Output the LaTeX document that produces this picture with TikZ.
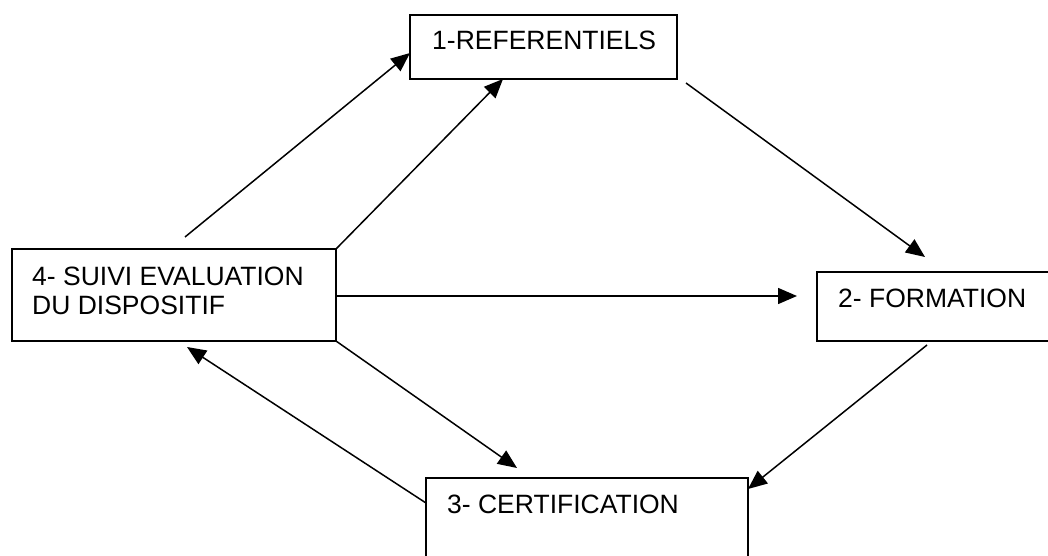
\documentclass[tikz,border=0pt]{standalone}
\usepackage{fontspec}
\setmainfont{Liberation Sans}
\usetikzlibrary{arrows.meta}
\begin{document}
\begin{tikzpicture}[x=1pt,y=-1pt,
  boxline/.style={draw=black, line width=1.8pt},
  lbl/.style={anchor=base west, inner sep=0pt, font=\fontsize{26.5}{29}\selectfont},
  conn/.style={line width=1.5pt, -{Triangle[length=19pt,width=16pt]}}]
\useasboundingbox (0,0) rectangle (1048,556);
\fill[white] (0,0) rectangle (1048,556);
% boxes
\draw[boxline] (410,15) rectangle (677,79);
\draw[boxline] (817,272) rectangle (1062,341);
\draw[boxline] (426,478) rectangle (748,570);
\draw[boxline] (12,249) rectangle (336,341);
% labels
\node[lbl] (t1) at (432,50) {1-REFERENTIELS};
\node[lbl] (t2) at (838,307) {2- FORMATION};
\node[lbl] (t3) at (447,513) {3- CERTIFICATION};
\node[lbl] (t4a) at (32,285) {4- SUIVI EVALUATION};
\node[lbl] (t4b) at (32,314) {DU DISPOSITIF};
% connector end points
\coordinate (a1s) at (185,237);
\coordinate (a1e) at (410,53);
\coordinate (a2s) at (336,249);
\coordinate (a2e) at (503,79);
\coordinate (a3s) at (686,83);
\coordinate (a3e) at (925,257);
\coordinate (a4s) at (336,296);
\coordinate (a4e) at (797,296);
\coordinate (a5s) at (927,345);
\coordinate (a5e) at (748,489);
\coordinate (a6s) at (336,341);
\coordinate (a6e) at (517,468);
\coordinate (a7s) at (426,503);
\coordinate (a7e) at (187,347);
% connectors
\draw[conn] (a1s) -- (a1e);
\draw[conn] (a2s) -- (a2e);
\draw[conn] (a3s) -- (a3e);
\draw[conn] (a4s) -- (a4e);
\draw[conn] (a5s) -- (a5e);
\draw[conn] (a6s) -- (a6e);
\draw[conn] (a7s) -- (a7e);
\end{tikzpicture}
\end{document}
